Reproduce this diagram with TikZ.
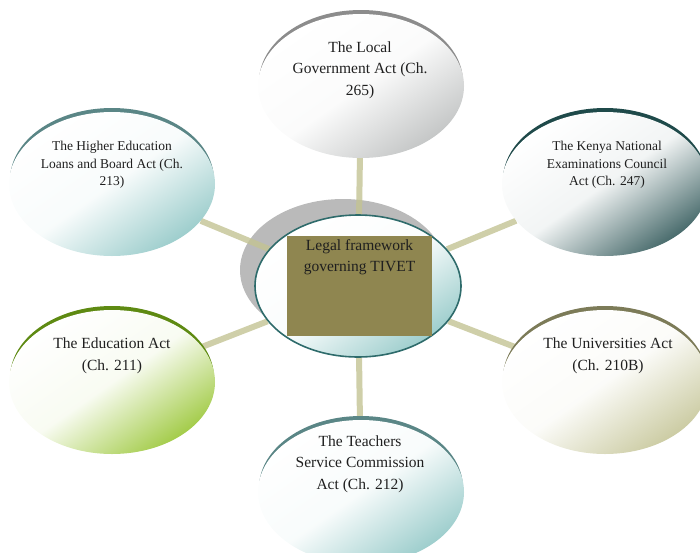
\documentclass[tikz,border=0pt]{standalone}
\usepackage{fontspec}
\setmainfont{Liberation Serif}
\usetikzlibrary{shapes.geometric}
\pgfdeclarelayer{shadow}
\pgfdeclarelayer{links}
\pgfsetlayers{shadow,links,main}
\definecolor{tealbody}{HTML}{9CCDCC}
\definecolor{tealrim}{HTML}{5A8686}
\definecolor{graybody}{HTML}{C4C6C6}
\definecolor{grayrim}{HTML}{8C8C8C}
\definecolor{slatebody}{HTML}{46696A}
\definecolor{slaterim}{HTML}{1F4A4A}
\definecolor{greenbody}{HTML}{A2CB47}
\definecolor{greenrim}{HTML}{5E8A12}
\definecolor{khakibody}{HTML}{CBCBA2}
\definecolor{khakirim}{HTML}{7C7B58}
\definecolor{linkcol}{HTML}{C3C393}
\definecolor{boxcol}{HTML}{8F8650}
\definecolor{coreline}{HTML}{2E6B6B}
\tikzset{
  bubble/.style={ellipse, inner sep=0pt, minimum width=206pt, minimum height=144pt,
    top color=white, bottom color=#1, middle color=white!93!#1, shading angle=35},
  rim/.style={ellipse, inner sep=0pt, minimum width=204pt, minimum height=144pt, fill=#1},
  lbl/.style={align=center, text=black!88, font=\fontsize{15.5}{21.5}\selectfont},
  lblsmall/.style={align=center, text=black!88, font=\fontsize{13.5}{17.5}\selectfont},
  link/.style={linkcol, line width=6pt, opacity=0.8}
}
\begin{document}
\begin{tikzpicture}[x=1pt,y=-1pt]
    \useasboundingbox (0,0) rectangle (700,552);
    % outer acts
    \node [rim=grayrim] (localrim) at (361,82) {};
    \node [bubble=graybody] (local) at (361,86) {};
    \node [lbl] (localtxt) at (360,70) {The Local\\Government Act (Ch.\\265)};
    \node [rim=tealrim] (higherrim) at (112,180) {};
    \node [bubble=tealbody] (higher) at (112,184) {};
    \node [lblsmall] (highertxt) at (112,165) {The Higher Education\\Loans and Board Act (Ch.\\213)};
    \node [rim=slaterim] (kenyarim) at (605,180) {};
    \node [bubble=slatebody] (kenya) at (605,184) {};
    \node [lblsmall] (kenyatxt) at (607,165) {The Kenya National\\Examinations Council\\Act (Ch. 247)};
    \node [rim=greenrim] (edurim) at (112,378) {};
    \node [bubble=greenbody] (edu) at (112,382) {};
    \node [lbl] (edutxt) at (112,356) {The Education Act\\(Ch. 211)};
    \node [rim=khakirim] (univrim) at (605,378) {};
    \node [bubble=khakibody] (univ) at (605,382) {};
    \node [lbl] (univtxt) at (608,356) {The Universities Act\\(Ch. 210B)};
    \node [rim=tealrim] (teachrim) at (361,488) {};
    \node [bubble=tealbody] (teach) at (361,492) {};
    \node [lbl] (teachtxt) at (360,464) {The Teachers\\Service Commission\\Act (Ch. 212)};
    % centre
    \node [ellipse, minimum width=206pt, minimum height=142pt, draw=coreline, line width=1.6pt,
      top color=white, bottom color=tealbody, middle color=white!95!tealbody, shading angle=35] (core) at (358,286) {};
    \node [fill=boxcol, minimum width=145pt, minimum height=100pt, inner sep=0pt] (box) at (359.5,286) {};
    \node [lbl] (coretxt) at (359.5,257) {Legal framework\\governing TIVET};
    \begin{pgfonlayer}{shadow}
      \node [ellipse, fill=black!27, minimum width=206pt, minimum height=142pt] (coreshade) at (343,270) {};
    \end{pgfonlayer}
    \begin{pgfonlayer}{links}
      \draw [link] (core) -- (local);
      \draw [link] (core) -- (higher);
      \draw [link] (core) -- (kenya);
      \draw [link] (core) -- (edu);
      \draw [link] (core) -- (univ);
      \draw [link] (core) -- (teach);
    \end{pgfonlayer}
\end{tikzpicture}
\end{document}
